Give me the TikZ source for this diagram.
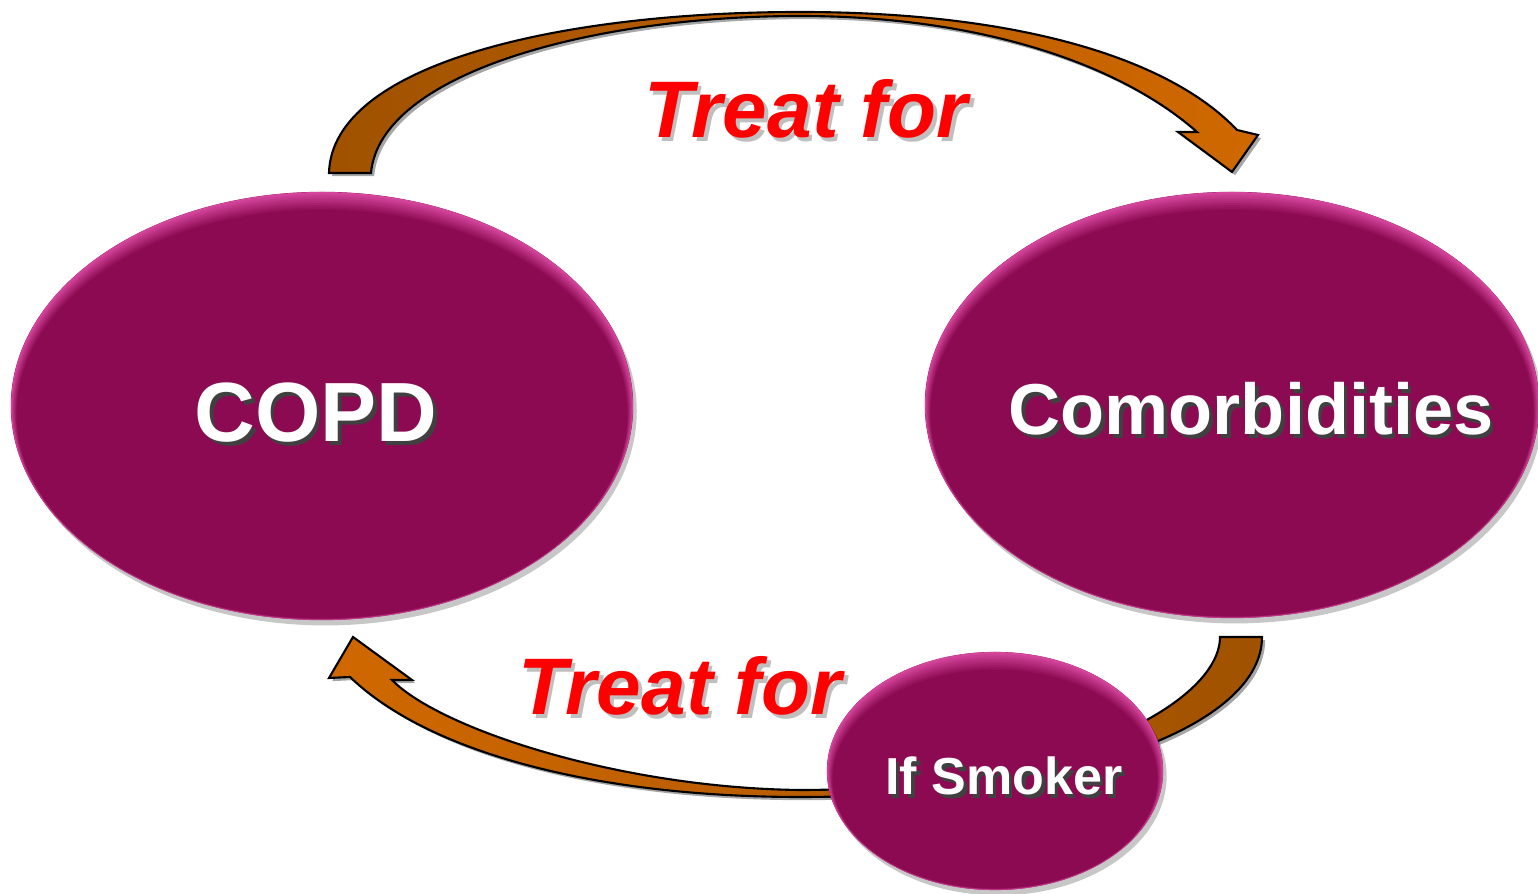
\documentclass[tikz,border=0pt]{standalone}
\usepackage{fontspec}
\setmainfont{Liberation Sans}
\usetikzlibrary{shapes.geometric,shadows,positioning}

\definecolor{blobbase}{RGB}{140,10,82}
\definecolor{blobrim}{RGB}{212,70,156}
\definecolor{arrowdark}{RGB}{160,82,0}
\definecolor{arrowlight}{RGB}{208,104,0}
\definecolor{treatred}{RGB}{255,0,0}

% text with a soft offset copy underneath
\newcommand{\shadowtext}[2]{\rlap{\textcolor{#1}{\hspace{1pt}\raisebox{-1pt}{#2}}}#2}

\tikzset{
  blob/.style={ellipse, draw=none, fill=blobbase, inner sep=0pt,
    drop shadow={shadow xshift=1pt, shadow yshift=-1.5pt, opacity=0.22, fill=black}},
  bloblabel/.style={anchor=base, text=white},
  treat/.style={anchor=base, text=treatred},
  ribbon/.style={draw=black, line width=0.6pt,
    drop shadow={shadow xshift=0.9pt, shadow yshift=-0.9pt, opacity=0.35, fill=black}},
}

% name, centre x, centre y, x radius, y radius
\newcommand{\ovalnode}[5]{%
  \node[blob, minimum width=#4*0.02cm, minimum height=#5*0.02cm] (#1) at (#2,#3) {};
  \foreach \k in {0,...,8}{
    \pgfmathsetmacro{\mix}{100-\k*12.5}
    \fill[blobrim!\mix!blobbase] (#2,#3-\k*1.0) ellipse [x radius=#4-\k*0.7, y radius=#5-\k*1.2];
  }
}

\begin{document}
\begin{tikzpicture}[x=0.01cm, y=0.01cm]
\useasboundingbox (0,0) rectangle (1538,894);

\ovalnode{copd}{322}{488}{311}{214}
\ovalnode{comorb}{1232}{489}{307}{213}

\node[bloblabel, font=\fontsize{23.9}{28}\selectfont\bfseries] (copdtext) at (316,452)
  {\shadowtext{black!75}{COPD}};
\node[bloblabel, font=\fontsize{20.5}{24}\selectfont\bfseries] (comorbtext) at (1251,459)
  {\shadowtext{black!75}{Comorbidities}};

% top arrow: COPD -> Comorbidities
\draw[ribbon, left color=arrowdark, right color=arrowlight]
  (329,721) .. controls (332,830) and (560,882) .. (800,882)
  .. controls (1020,882) and (1170,835) .. (1237,764)
  -- (1258,759) -- (1232,722) -- (1178,762) -- (1197,762)
  .. controls (1120,830) and (980,878) .. (800,878)
  .. controls (590,878) and (380,820) .. (371,721) -- cycle;

% bottom arrow: Comorbidities -> COPD
\draw[ribbon, left color=arrowlight, right color=arrowdark]
  (1262,257) .. controls (1262,170) and (1080,97) .. (800,97)
  .. controls (600,97) and (430,140) .. (350,217)
  -- (329,216) -- (353,257) -- (412,214) -- (392,214)
  .. controls (440,165) and (620,106) .. (800,104)
  .. controls (1060,104) and (1220,190) .. (1220,257) -- cycle;

\ovalnode{smoker}{995}{123}{168}{119}
\node[bloblabel, font=\fontsize{14.8}{18}\selectfont\bfseries] (smokertext) at (1004,99)
  {\shadowtext{black!75}{If Smoker}};

\node[treat, font=\fontsize{22.8}{27}\selectfont\bfseries\itshape] (treattop) at (806,756)
  {\shadowtext{black!25}{Treat for}};
\node[treat, font=\fontsize{22.8}{27}\selectfont\bfseries\itshape] (treatbottom) at (680,179)
  {\shadowtext{black!25}{Treat for}};
\end{tikzpicture}
\end{document}
